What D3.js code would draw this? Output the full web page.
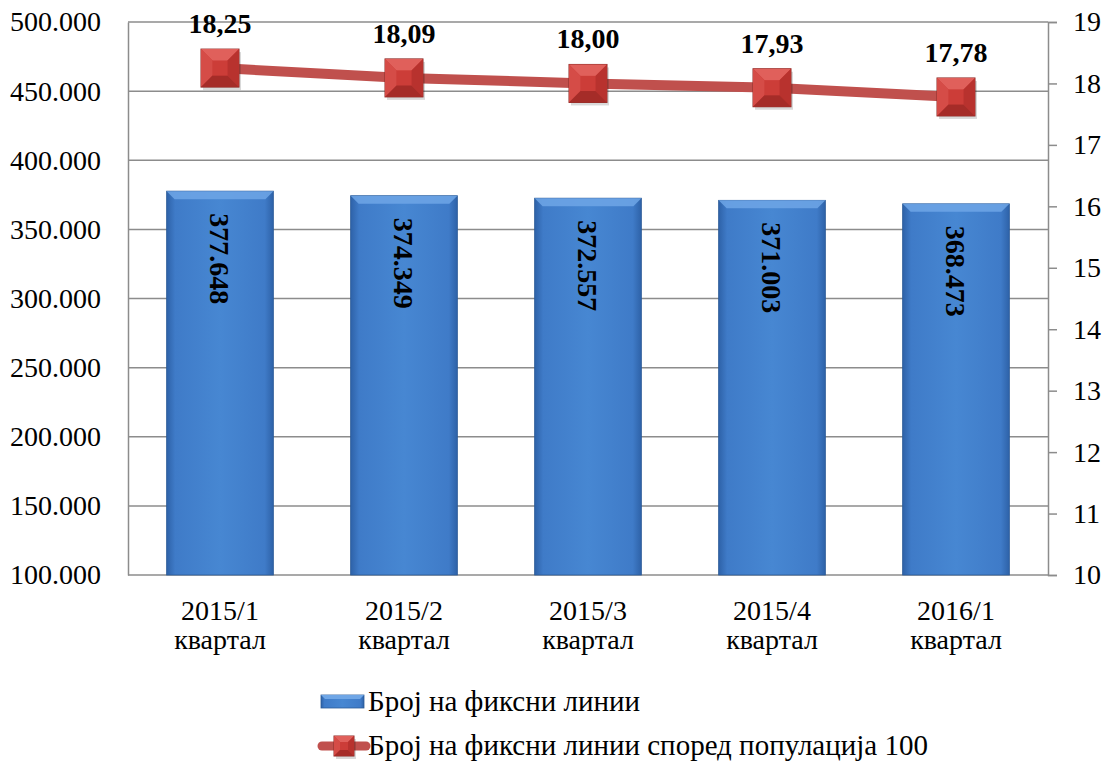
<!DOCTYPE html>
<html>
<head>
<meta charset="utf-8">
<script src="https://cdn.jsdelivr.net/npm/d3@7"></script>
<style>
  body { margin: 0; background: #fff; }
  text { font-family: "Liberation Serif", "DejaVu Serif", serif; }
</style>
</head>
<body>
<div id="chart"></div>
<script>
var quarters = ["2015/1", "2015/2", "2015/3", "2015/4", "2016/1"];
var lines = [377648, 374349, 372557, 371003, 368473];
var perHundred = [18.25, 18.09, 18.00, 17.93, 17.78];
var leftTicks = [100000, 150000, 200000, 250000, 300000, 350000, 400000, 450000, 500000];
var rightTicks = [10, 11, 12, 13, 14, 15, 16, 17, 18, 19];
var seriesNames = ["Број на фиксни линии", "Број на фиксни линии според популација 100"];

var width = 1105, height = 761;
var plotLeft = 128, plotRight = 1048, plotTop = 22, plotBottom = 575;

var svg = d3.select("#chart").append("svg")
    .attr("width", width)
    .attr("height", height);

var defs = svg.append("defs");
var bg = defs.append("linearGradient").attr("id", "barGrad")
    .attr("x1", "0").attr("x2", "1").attr("y1", "0").attr("y2", "0");
bg.append("stop").attr("offset", "0").attr("stop-color", "#2e62a8");
bg.append("stop").attr("offset", "0.08").attr("stop-color", "#3f7bc8");
bg.append("stop").attr("offset", "0.5").attr("stop-color", "#4787d2");
bg.append("stop").attr("offset", "0.92").attr("stop-color", "#3f7bc8");
bg.append("stop").attr("offset", "1").attr("stop-color", "#2e62a8");

var fmt = function(v) { return d3.format(",")(v).replace(/,/g, "."); };

var x = d3.scaleBand().domain(quarters).range([plotLeft, plotRight]).paddingInner(0.42).paddingOuter(0.21);
var y = d3.scaleLinear().domain([100000, 500000]).range([plotBottom, plotTop]);
var y2 = d3.scaleLinear().domain([10, 19]).range([plotBottom, plotTop]);

// gridlines
svg.append("g").selectAll("line")
    .data(leftTicks)
    .enter().append("line")
    .attr("x1", plotLeft).attr("x2", plotRight)
    .attr("y1", function(d) { return y(d); })
    .attr("y2", function(d) { return y(d); })
    .attr("stroke", "#8c8c8c").attr("stroke-width", 1.5);

// left axis
var yAxis = svg.append("g")
    .attr("transform", "translate(" + plotLeft + ",0)")
    .call(d3.axisLeft(y).tickValues(leftTicks).tickSize(0).tickPadding(27).tickFormat(fmt));
yAxis.select(".domain").attr("stroke", "#8c8c8c").attr("stroke-width", 1.5);
yAxis.selectAll("text").style("font-size", "28px").attr("fill", "#000")
    .style("font-family", "'Liberation Serif', serif");

// right axis
var y2Axis = svg.append("g")
    .attr("transform", "translate(" + plotRight + ",0)")
    .call(d3.axisRight(y2).tickValues(rightTicks).tickSize(9).tickPadding(16).tickFormat(d3.format("d")));
y2Axis.select(".domain").attr("stroke", "#8c8c8c").attr("stroke-width", 1.5);
y2Axis.selectAll("line").attr("stroke", "#8c8c8c").attr("stroke-width", 1.5);
y2Axis.selectAll("text").style("font-size", "28px").attr("fill", "#000")
    .style("font-family", "'Liberation Serif', serif");

// bottom axis labels
var xl = svg.append("g").selectAll("text")
    .data(quarters)
    .enter().append("text")
    .attr("x", function(d) { return x(d) + x.bandwidth() / 2; })
    .attr("y", 620)
    .attr("text-anchor", "middle")
    .style("font-size", "28px");
xl.append("tspan").text(function(d) { return d; });
xl.append("tspan")
    .attr("x", function(d) { return x(d) + x.bandwidth() / 2; })
    .attr("dy", 29)
    .text("квартал");

// bars
var bars = svg.append("g").selectAll("g")
    .data(lines)
    .enter().append("g");
bars.append("rect")
    .attr("x", function(d, i) { return x(quarters[i]); })
    .attr("y", function(d) { return y(d); })
    .attr("width", x.bandwidth())
    .attr("height", function(d) { return plotBottom - y(d); })
    .attr("fill", "url(#barGrad)")
    .attr("stroke", "#2b5a96").attr("stroke-width", 0.8);
// bevel on top
bars.append("path")
    .attr("d", function(d, i) {
        var x0 = x(quarters[i]), x1 = x0 + x.bandwidth(), yt = y(d), b = 8;
        return "M" + x0 + "," + yt + "L" + x1 + "," + yt + "L" + (x1 - b) + "," + (yt + b) + "L" + (x0 + b) + "," + (yt + b) + "Z";
    })
    .attr("fill", "#6fa6e6").attr("opacity", 0.85);
bars.append("text")
    .attr("transform", function(d, i) {
        return "translate(" + (x(quarters[i]) + x.bandwidth() / 2) + "," + (y(d) + 22) + ") rotate(90)";
    })
    .attr("dy", "0.35em")
    .style("font-size", "28px").style("font-weight", "bold")
    .text(function(d) { return fmt(d); });

// line series
var lineGen = d3.line()
    .x(function(d, i) { return x(quarters[i]) + x.bandwidth() / 2; })
    .y(function(d) { return y2(d); });
svg.append("path")
    .datum(perHundred)
    .attr("d", lineGen)
    .attr("fill", "none")
    .attr("stroke", "#c0504d").attr("stroke-width", 10);

function marker(g, s) {
    var h = s / 2, b = s * 0.3;
    g.append("rect").attr("x", -h + 2).attr("y", -h + 3).attr("width", s).attr("height", s)
        .attr("fill", "#000").attr("opacity", 0.15);
    g.append("rect").attr("x", -h).attr("y", -h).attr("width", s).attr("height", s)
        .attr("fill", "#c93b36").attr("stroke", "#8c2a26").attr("stroke-width", 1);
    g.append("path").attr("d", "M" + -h + "," + -h + "L" + h + "," + -h + "L0,0Z").attr("fill", "#e0605b");
    g.append("path").attr("d", "M" + -h + "," + -h + "L" + -h + "," + h + "L0,0Z").attr("fill", "#d54c47");
    g.append("path").attr("d", "M" + h + "," + -h + "L" + h + "," + h + "L0,0Z").attr("fill", "#b8322e");
    g.append("path").attr("d", "M" + -h + "," + h + "L" + h + "," + h + "L0,0Z").attr("fill", "#a52c28");
    g.append("rect").attr("x", -h + b).attr("y", -h + b).attr("width", s - 2 * b).attr("height", s - 2 * b)
        .attr("fill", "#cc3d38");
}

var pts = svg.append("g").selectAll("g")
    .data(perHundred)
    .enter().append("g")
    .attr("transform", function(d, i) {
        return "translate(" + (x(quarters[i]) + x.bandwidth() / 2) + "," + y2(d) + ")";
    });
pts.each(function() { marker(d3.select(this), 38); });
pts.append("text")
    .attr("y", -35)
    .attr("text-anchor", "middle")
    .style("font-size", "28px").style("font-weight", "bold")
    .text(function(d) { return d3.format(".2f")(d).replace(".", ","); });

// legend
var lg = svg.append("g");
lg.append("rect").attr("x", 321).attr("y", 695).attr("width", 43).attr("height", 13)
    .attr("fill", "url(#barGrad)").attr("stroke", "#2b5a96").attr("stroke-width", 0.8);
lg.append("path").attr("d", "M321,695L364,695L360,699L325,699Z").attr("fill", "#6fa6e6");
lg.append("text").attr("x", 368).attr("y", 711).style("font-size", "29px").text(seriesNames[0]);

lg.append("line").attr("x1", 322).attr("x2", 366).attr("y1", 746).attr("y2", 746)
    .attr("stroke", "#c0504d").attr("stroke-width", 9).attr("stroke-linecap", "round");
var lm = lg.append("g").attr("transform", "translate(344,746)");
marker(lm, 20);
lg.append("text").attr("x", 368).attr("y", 755).style("font-size", "29px").text(seriesNames[1]);
</script>
</body>
</html>
